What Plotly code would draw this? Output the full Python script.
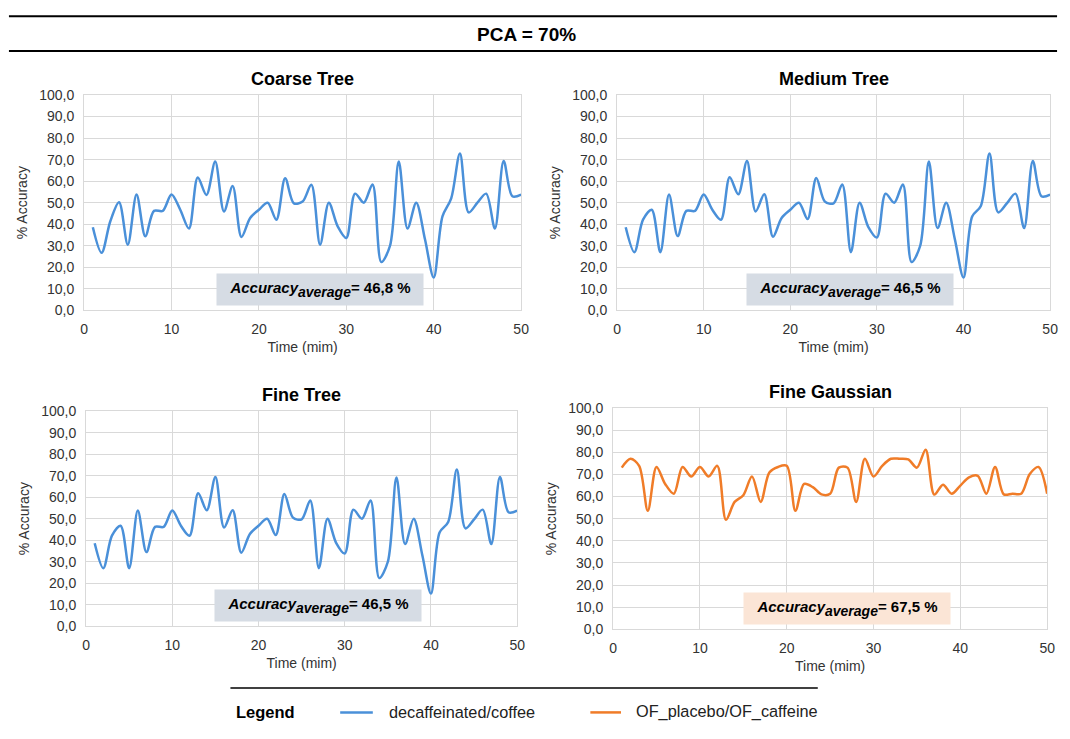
import plotly.graph_objects as go

# ---------------- data ----------------
time_min = list(range(1, 51))

coarse_tree = [38.6, 26.7, 41.4, 50.2, 30.5, 53.8, 34.4, 46.2, 46.2, 53.8,
               46.7, 38.0, 61.7, 53.6, 69.1, 45.9, 57.7, 34.1, 42.9, 46.7,
               50.0, 42.1, 61.4, 49.7, 50.5, 58.3, 30.5, 50.0, 39.1, 33.6,
               54.2, 50.0, 58.5, 22.4, 30.0, 69.1, 38.0, 50.0, 33.0, 15.2,
               43.6, 52.0, 72.9, 45.5, 50.0, 54.2, 38.0, 69.4, 53.0, 53.8]

medium_tree = [38.6, 27.0, 42.1, 46.7, 27.0, 53.8, 34.5, 46.2, 46.2, 53.8,
               46.7, 42.1, 61.8, 53.9, 69.4, 45.9, 53.9, 34.2, 42.9, 46.7,
               50.0, 42.4, 61.5, 50.5, 49.7, 58.5, 27.0, 50.0, 38.8, 33.8,
               54.2, 50.0, 58.5, 22.4, 30.0, 69.1, 38.2, 50.0, 33.0, 15.2,
               43.6, 48.5, 72.9, 45.5, 49.7, 54.2, 38.2, 69.4, 53.0, 53.8]

fine_tree = [38.6, 27.0, 42.1, 46.7, 27.0, 53.8, 34.5, 46.2, 46.2, 53.8,
             46.7, 42.1, 61.8, 53.9, 69.4, 45.9, 53.9, 34.2, 42.9, 46.7,
             50.0, 42.4, 61.5, 50.5, 49.7, 58.5, 27.0, 50.0, 38.8, 33.8,
             54.2, 50.0, 58.5, 22.4, 30.0, 69.1, 38.2, 50.0, 33.0, 15.2,
             43.6, 48.5, 72.9, 45.5, 49.7, 54.2, 38.2, 69.4, 53.0, 53.8]

fine_gaussian = [73.1, 77.1, 73.9, 53.6, 73.4, 65.7, 61.3, 73.4, 69.1, 73.4,
                 69.1, 73.9, 49.5, 57.6, 60.6, 69.1, 57.6, 70.9, 73.4, 73.9,
                 53.6, 65.7, 64.3, 61.0, 61.3, 73.1, 73.1, 57.6, 77.1, 69.1,
                 73.9, 77.1, 77.1, 76.8, 73.1, 81.2, 60.9, 65.4, 61.3, 65.0,
                 68.7, 69.4, 61.3, 73.4, 61.0, 61.3, 61.3, 70.2, 73.4, 61.3]

panel_titles = ["Coarse Tree", "Medium Tree", "Fine Tree", "Fine Gaussian"]
averages = ["46,8", "46,5", "46,5", "67,5"]
series_names = ["decaffeinated/coffee", "OF_placebo/OF_caffeine"]
y_tickvals = list(range(0, 101, 10))
y_ticktext = [f"{v},0" for v in y_tickvals]
x_tickvals = [0, 10, 20, 30, 40, 50]

# ---------------- style ----------------
W, H = 1070, 739
FONT = "Liberation Sans, Arial, sans-serif"
BLUE = "#4A90D9"
ORANGE = "#F07C28"
GRID = "#D9D9D9"

def px_x(p):
    return p / W

def px_y(p):
    return 1 - p / H

# plot-area pixel boxes (left, right, top, bottom)
boxes = [(81, 523, 89, 309), (620, 1058, 89, 309),
         (83, 519, 412, 632), (616, 1055, 409, 635)]
series = [coarse_tree, medium_tree, fine_tree, fine_gaussian]
colors = [BLUE, BLUE, BLUE, ORANGE]
box_fill = ["#D6DCE4", "#D6DCE4", "#D6DCE4", "#FBE5D6"]

fig = go.Figure()
annotations = []
shapes = []

for i, (ys, col, b) in enumerate(zip(series, colors, boxes)):
    xa = "x" if i == 0 else f"x{i+1}"
    ya = "y" if i == 0 else f"y{i+1}"
    fig.add_trace(go.Scatter(
        x=time_min, y=ys, mode="lines",
        name=series_names[0] if col == BLUE else series_names[1],
        line=dict(color=col, width=2.5, shape="spline", smoothing=0.9),
        xaxis=xa, yaxis=ya, showlegend=False, hoverinfo="x+y"))
    l, r, t, btm = b
    axis_common = dict(showgrid=True, gridcolor=GRID, gridwidth=1,
                       showline=True, linecolor=GRID, linewidth=1, mirror=True,
                       zeroline=False, ticks="",
                       tickfont=dict(family=FONT, size=14, color="#333333"))
    xkey = "xaxis" if i == 0 else f"xaxis{i+1}"
    ykey = "yaxis" if i == 0 else f"yaxis{i+1}"
    fig.update_layout(**{
        xkey: dict(domain=[px_x(l), px_x(r)], range=[0, 50], anchor=ya,
                   tickvals=x_tickvals, ticklabelstandoff=6,
                   title=dict(text="Time (mim)", standoff=6,
                              font=dict(family=FONT, size=14, color="#333333")),
                   **axis_common),
        ykey: dict(domain=[px_y(btm), px_y(t)], range=[0, 100], anchor=xa,
                   tickvals=y_tickvals, ticktext=y_ticktext, ticklabelstandoff=6,
                   title=dict(text="% Accuracy", standoff=8,
                              font=dict(family=FONT, size=14, color="#333333")),
                   **axis_common),
    })
    # panel title
    annotations.append(dict(
        text=f"<b>{panel_titles[i]}</b>", xref="paper", yref="paper",
        x=px_x((l + r) / 2), y=px_y(t - 16), xanchor="center", yanchor="middle",
        showarrow=False, font=dict(family=FONT, size=18, color="#000000")))
    # accuracy average box
    cx = l + (r - l) * 0.539
    cy = btm - 21
    annotations.append(dict(
        text=(f"<b><i>Accuracy<sub><span style='font-size:14px'>average</span></sub></i>"
              f"= {averages[i]} %</b>"),
        xref="paper", yref="paper", x=px_x(cx), y=px_y(cy),
        xanchor="center", yanchor="middle", showarrow=False,
        width=206, height=31, borderpad=0, bgcolor=box_fill[i],
        font=dict(family=FONT, size=15, color="#000000")))

# header title and rules
annotations.append(dict(
    text="<b>PCA = 70%</b>", xref="paper", yref="paper",
    x=px_x(528), y=px_y(27.5), xanchor="center", yanchor="middle",
    showarrow=False, font=dict(family=FONT, size=19, color="#000000")))
for yy in (8.5, 44):
    shapes.append(dict(type="line", xref="paper", yref="paper",
                       x0=px_x(5), x1=px_x(1065), y0=px_y(yy), y1=px_y(yy),
                       line=dict(color="#000000", width=2)))

# legend
shapes.append(dict(type="line", xref="paper", yref="paper",
                   x0=px_x(229), x1=px_x(823), y0=px_y(695), y1=px_y(695),
                   line=dict(color="#000000", width=1.5)))
annotations.append(dict(text="<b>Legend</b>", xref="paper", yref="paper",
                        x=px_x(233), y=px_y(719.5), xanchor="left", yanchor="middle",
                        showarrow=False, font=dict(family=FONT, size=16.5, color="#000000")))
for (x0, x1, tx, col, name) in [(340, 373, 387, BLUE, series_names[0]),
                                (593, 624, 637, ORANGE, series_names[1])]:
    shapes.append(dict(type="line", xref="paper", yref="paper",
                       x0=px_x(x0), x1=px_x(x1), y0=px_y(720), y1=px_y(720),
                       line=dict(color=col, width=2.5)))
    annotations.append(dict(text=name, xref="paper", yref="paper",
                            x=px_x(tx), y=px_y(719.5), xanchor="left", yanchor="middle",
                            showarrow=False,
                            font=dict(family=FONT, size=16.3, color="#222222")))

fig.update_layout(
    width=W, height=H, margin=dict(l=0, r=0, t=0, b=0),
    paper_bgcolor="white", plot_bgcolor="white",
    annotations=annotations, shapes=shapes,
    font=dict(family=FONT))

fig.write_html("out.html")
